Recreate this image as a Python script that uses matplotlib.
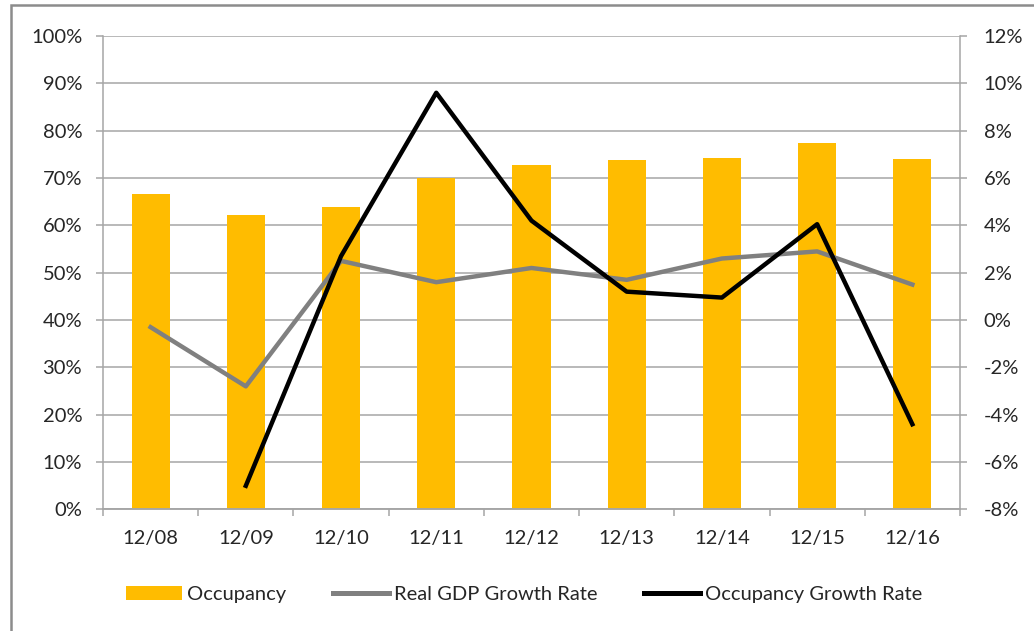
import matplotlib.pyplot as plt
import numpy as np
from matplotlib.lines import Line2D
from matplotlib.patches import Patch, Rectangle
from matplotlib.ticker import FuncFormatter, MultipleLocator

plt.rcParams["font.family"] = ["Lato", "DejaVu Sans"]

periods = ["12/08", "12/09", "12/10", "12/11", "12/12", "12/13", "12/14", "12/15", "12/16"]
occupancy = [66.7, 62.2, 63.8, 70.0, 72.8, 73.7, 74.2, 77.4, 74.0]
gdp_growth = [-0.3, -2.8, 2.5, 1.6, 2.2, 1.7, 2.6, 2.9, 1.5]
occ_growth = [np.nan, -7.0, 2.7, 9.6, 4.2, 1.2, 0.95, 4.05, -4.4]

BAR = "#ffbc00"
GREY = "#808080"
AXIS = "#a6a6a6"
TEXT = "#262626"
FS = 14.5

fig = plt.figure(figsize=(10.34, 6.31), dpi=100)
ax = fig.add_axes([0.0996, 0.1926, 0.8288, 0.7504])
ax2 = ax.twinx()

x = np.arange(len(periods))
ax.bar(x, occupancy, width=0.4, color=BAR, zorder=2)
ax.set_xlim(-0.5, len(periods) - 0.5)
ax.set_ylim(0, 100)
ax.yaxis.set_major_locator(MultipleLocator(10))
ax.yaxis.set_major_formatter(FuncFormatter(lambda v, p: f"{v:.0f}%"))
ax.grid(axis="y", color=AXIS, linewidth=1.1, zorder=0)
ax.set_axisbelow(True)

# category labels in the middle, tick marks on the boundaries
ax.set_xticks(x)
ax.set_xticklabels(periods)
ax.set_xticks(np.arange(len(periods) + 1) - 0.5, minor=True)
ax.tick_params(axis="x", which="major", length=0, pad=15, labelsize=FS, labelcolor=TEXT)
ax.tick_params(axis="x", which="minor", length=5, width=1.1, color=AXIS, direction="out")
ax.tick_params(axis="y", length=5, width=1.1, color=AXIS, pad=10, labelsize=FS, labelcolor=TEXT)

ax2.plot(x, gdp_growth, color=GREY, linewidth=3.2, solid_joinstyle="round", zorder=3)
ax2.plot(x, occ_growth, color="black", linewidth=3.2, solid_joinstyle="round", zorder=4)
ax2.set_ylim(-8, 12)
ax2.yaxis.set_major_locator(MultipleLocator(2))
ax2.yaxis.set_major_formatter(FuncFormatter(lambda v, p: f"{v:.0f}%"))
ax2.tick_params(axis="y", length=5, width=1.1, color=AXIS, pad=12, labelsize=FS, labelcolor=TEXT)

for a in (ax, ax2):
    for side in ("left", "right", "bottom"):
        a.spines[side].set_color(AXIS)
        a.spines[side].set_linewidth(1.1)
    a.spines["top"].set_visible(False)
ax.spines["right"].set_visible(False)
ax2.spines["left"].set_visible(False)

handles = [
    Patch(facecolor=BAR, edgecolor="none"),
    Line2D([], [], color=GREY, linewidth=3.6),
    Line2D([], [], color="black", linewidth=3.6),
]
labels = ["Occupancy", "Real GDP Growth Rate", "Occupancy Growth Rate"]
fig.legend(handles, labels, loc="center", bbox_to_anchor=(0.507, 0.058), ncol=3,
           frameon=False, fontsize=FS, handlelength=2.8, handletextpad=0.25,
           columnspacing=2.3, labelcolor=TEXT)

# outer frame, open past the right and bottom edges
fig.patches.append(Rectangle((11 / 1034, -0.05), 1.1, 1.05 - 5 / 631,
                             transform=fig.transFigure, fill=False,
                             edgecolor="#8c8c8c", linewidth=1.8))

fig.savefig("out.png", dpi=100)
